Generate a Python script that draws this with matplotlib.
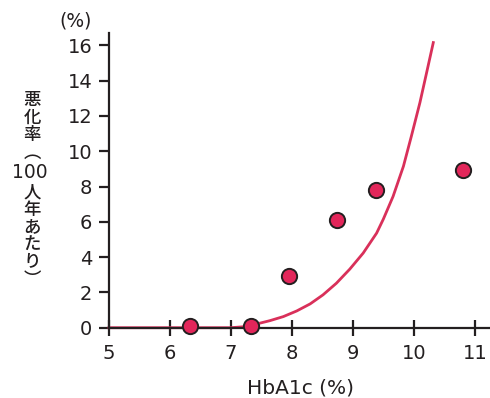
import matplotlib
matplotlib.use('Agg')
import matplotlib.pyplot as plt

plt.rcParams['font.family'] = ['DejaVu Sans', 'Noto Sans CJK JP']

# observed rates
hba1c = [6.33, 7.33, 7.95, 8.74, 9.38, 10.8]
rate = [0.1, 0.1, 2.95, 6.1, 7.8, 8.95]

# fitted curve
curve_x = [5.0, 7.0, 7.3, 7.42, 7.64, 7.86, 8.08, 8.30, 8.51, 8.73, 8.95,
           9.17, 9.39, 9.50, 9.66, 9.83, 9.96, 10.10, 10.21, 10.32]
curve_y = [0.0, 0.0, 0.08, 0.21, 0.40, 0.63, 0.95, 1.35, 1.86, 2.52, 3.32,
           4.23, 5.36, 6.15, 7.44, 9.15, 10.85, 12.75, 14.45, 16.16]

yticks = [0, 2, 4, 6, 8, 10, 12, 14, 16]
xticks = [5, 6, 7, 8, 9, 10, 11]
ylabel_chars = ['悪', '化', '率', '︵', '100', '人', '年', 'あ', 'た', 'り', '︶']

red = '#d9305a'
dark = '#231f20'

fig = plt.figure(figsize=(4.9, 3.98), dpi=100)
ax = fig.add_axes([0.2224, 0.1766, 0.7776, 0.7404])

ax.plot(curve_x, curve_y, color=red, lw=2.0, zorder=2, clip_on=False,
        solid_joinstyle='round')
ax.plot(hba1c, rate, 'o', ms=11, mfc='#e2265a', mec=dark, mew=1.4,
        zorder=3, clip_on=False)

ax.set_xlim(5, 11.25)
ax.set_ylim(0, 16.7)
ax.set_xticks(xticks)
ax.set_yticks(yticks)
ax.spines['top'].set_visible(False)
ax.spines['right'].set_visible(False)
for s in ['left', 'bottom']:
    ax.spines[s].set_color(dark)
    ax.spines[s].set_linewidth(1.6)
ax.tick_params(axis='x', direction='inout', length=12, width=1.6, color=dark,
               labelsize=14, pad=6, labelcolor=dark)
ax.tick_params(axis='y', direction='out', length=7, width=1.6, color=dark,
               labelsize=14, pad=5, labelcolor=dark)

fig.text(300 / 490, 1 - 388 / 398, 'HbA1c (%)', ha='center', va='center',
         fontsize=14.5, color=dark)
fig.text(76 / 490, 1 - 21 / 398, '(%)', ha='center', va='center',
         fontsize=13.5, color=dark)

# vertical label, one glyph per row
py = 100
for ch in ylabel_chars:
    if ch == '100':
        py += 2
        fig.text(30 / 490, 1 - py / 398, ch, ha='center', va='center',
                 fontsize=13.5, color=dark)
        py += 3
    else:
        fig.text(32 / 490, 1 - py / 398, ch, ha='center', va='center',
                 fontsize=12.5, color=dark, family=['Noto Sans CJK JP'],
                 fontweight='medium')
    py += 17.5

fig.savefig('out.png', dpi=100)
